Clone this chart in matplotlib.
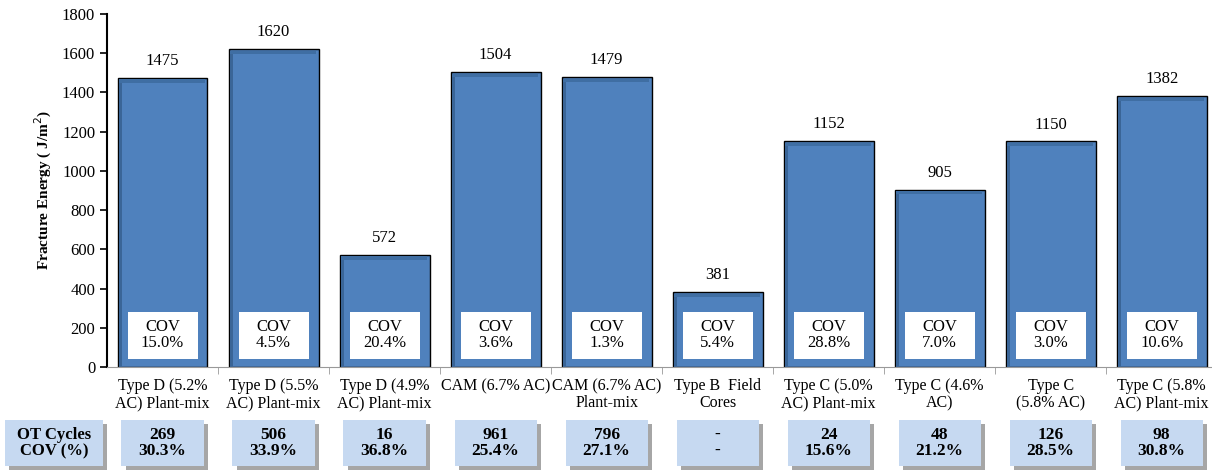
import numpy as np
import matplotlib.pyplot as plt
from matplotlib.patches import Rectangle
from matplotlib.transforms import blended_transform_factory

plt.rcParams['font.family'] = ['Liberation Serif', 'DejaVu Serif']

categories = ['Type D (5.2%\nAC) Plant-mix', 'Type D (5.5%\nAC) Plant-mix', 'Type D (4.9%\nAC) Plant-mix',
              'CAM (6.7% AC)\n', 'CAM (6.7% AC)\nPlant-mix', 'Type B  Field\nCores',
              'Type C (5.0%\nAC) Plant-mix', 'Type C (4.6%\nAC)', 'Type C\n(5.8% AC)', 'Type C (5.8%\nAC) Plant-mix']
fracture_energy = [1475, 1620, 572, 1504, 1479, 381, 1152, 905, 1150, 1382]
fe_cov = ['15.0%', '4.5%', '20.4%', '3.6%', '1.3%', '5.4%', '28.8%', '7.0%', '3.0%', '10.6%']
ot_cycles = ['269', '506', '16', '961', '796', '-', '24', '48', '126', '98']
ot_cov = ['30.3%', '33.9%', '36.8%', '25.4%', '27.1%', '-', '15.6%', '21.2%', '28.5%', '30.8%']

fig = plt.figure(figsize=(12.12, 4.71), dpi=100)
ax = fig.add_axes([0.0883, 0.2208, 0.916, 0.7495])

x = np.arange(len(categories))
ax.bar(x, fracture_energy, width=0.81, color='#4f81bd', edgecolor='black', linewidth=1.0, zorder=2)

# darker shading along the inside of each bar
for xi, v in zip(x, fracture_energy):
    ax.add_patch(Rectangle((xi - 0.395, 0), 0.03, v - 8, facecolor='#3a6597', edgecolor='none', zorder=2.5))
    ax.add_patch(Rectangle((xi - 0.395, v - 25), 0.78, 17, facecolor='#3f6ea3', edgecolor='none', zorder=2.5))

for xi, v in zip(x, fracture_energy):
    ax.text(xi, v + 45, str(v), ha='center', va='bottom', fontsize=12)

# COV boxes inside bars
for xi, c in zip(x, fe_cov):
    ax.add_patch(Rectangle((xi - 0.315, 40), 0.63, 240, facecolor='white', edgecolor='none', zorder=3))
    ax.text(xi, 165, 'COV\n' + c, ha='center', va='center', fontsize=12, linespacing=1.0, zorder=4)

ax.set_xlim(-0.5, len(categories) - 0.5)
ax.set_ylim(0, 1800)
ax.set_yticks(np.arange(0, 1801, 200))
ax.set_ylabel('Fracture Energy ( J/m$^2$)', fontsize=11, fontweight='bold', labelpad=6)

ax.set_xticks(x)
ax.set_xticklabels(categories, fontsize=11.5, linespacing=1.1)
ax.set_xticks(np.arange(0.5, len(categories) - 0.5, 1), minor=True)
ax.tick_params(axis='x', which='major', length=0, pad=8)
ax.tick_params(axis='x', which='minor', length=5, color='#999999')
ax.tick_params(axis='y', labelsize=12, length=5, width=1.2, direction='out')

for side in ['top', 'right']:
    ax.spines[side].set_visible(False)
ax.spines['left'].set_linewidth(1.5)
ax.spines['bottom'].set_color('#999999')

# OT cycles table under the chart
tr = blended_transform_factory(ax.transData, fig.transFigure)
for xi, n, c in zip(x, ot_cycles, ot_cov):
    ax.add_patch(Rectangle((xi - 0.37 + 0.04, 0.0106 - 0.008), 0.74, 0.0974, transform=tr,
                           facecolor='#a6a6a6', edgecolor='none', clip_on=False, zorder=1))
    ax.add_patch(Rectangle((xi - 0.37, 0.0106), 0.74, 0.0974, transform=tr,
                           facecolor='#c6d9f1', edgecolor='none', clip_on=False, zorder=2))
    ax.text(xi, 0.0593, n + '\n' + c, transform=tr, ha='center', va='center',
            fontsize=12.5, fontweight='bold', linespacing=1.0)

fig.patches.append(Rectangle((0.0075, 0.0026), 0.081, 0.0974, transform=fig.transFigure,
                             facecolor='#a6a6a6', edgecolor='none', zorder=0))
fig.patches.append(Rectangle((0.0041, 0.0106), 0.081, 0.0974, transform=fig.transFigure,
                             facecolor='#c6d9f1', edgecolor='none', zorder=1))
fig.text(0.0446, 0.0593, 'OT Cycles\nCOV (%)', ha='center', va='center',
         fontsize=12, fontweight='bold', linespacing=1.05)

fig.savefig('out.png', dpi=100)
